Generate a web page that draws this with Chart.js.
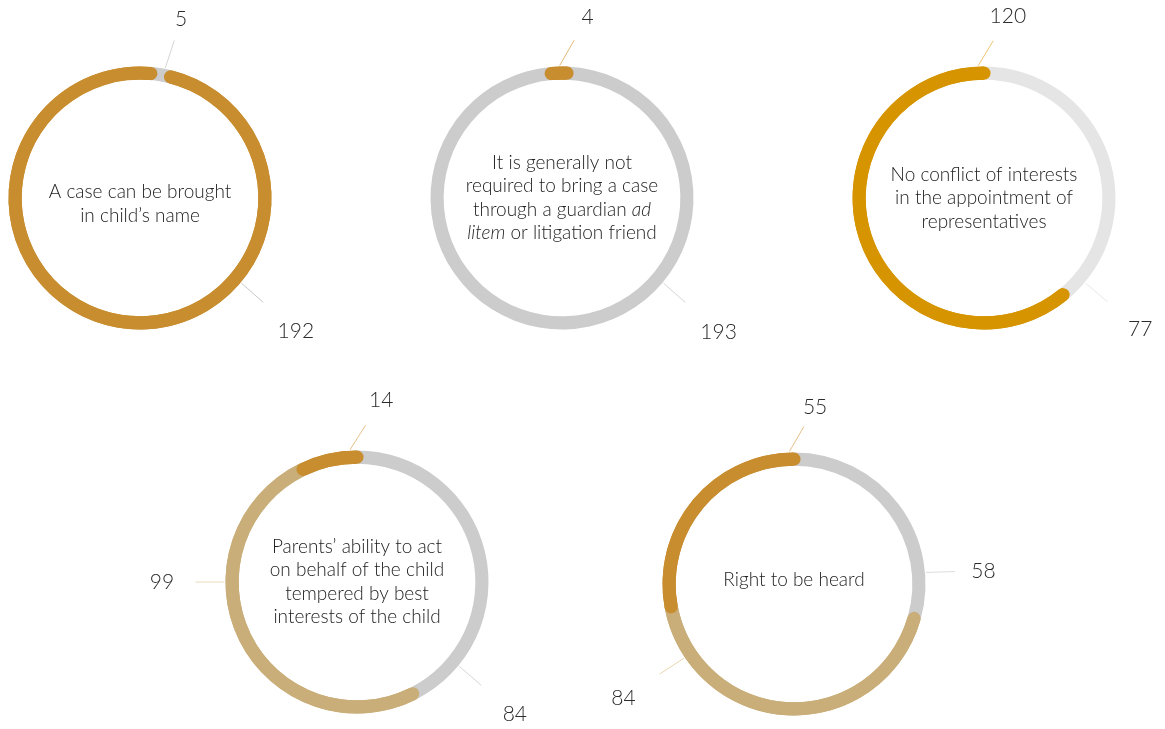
<!DOCTYPE html>
<html>
<head>
<meta charset="utf-8">
<script src="https://cdn.jsdelivr.net/npm/chart.js@4.4.0/dist/chart.umd.min.js"></script>
<style>
  body { margin: 0; width: 1165px; height: 729px; overflow: hidden; background: #fff; position: relative; }
  canvas { position: absolute; }
</style>
</head>
<body>
<script>
// ring values (segment order = clockwise from the top)
const values1 = [5, 192];
const values2 = [4, 193];
const values3 = [77, 120];
const values4 = [84, 99, 14];
const values5 = [58, 84, 55];

// text inside each ring, _x_ = italic
const titles1 = ['A case can be brought', 'in child’s name'];
const titles2 = ['It is generally not', 'required to bring a case', 'through a guardian _ad_', '_litem_ or litigation friend'];
const titles3 = ['No conflict of interests', 'in the appointment of', 'representatives'];
const titles4 = ['Parents’ ability to act', 'on behalf of the child', 'tempered by best', 'interests of the child'];
const titles5 = ['Right to be heard'];

const GOLD = '#c88d2f', GRAY = '#cccccc', TAN = '#c9ae79', AMBER = '#d69500', LIGHT = '#e5e5e5';
const W = 500, H = 440, R = 131.5;

const rad = d => (d - 90) * Math.PI / 180;

const ringExtras = {
    id: 'ringExtras',
    afterDatasetsDraw(chart, args, opts) {
        const ctx = chart.ctx;
        const arcs = chart.getDatasetMeta(0).data;
        const ds = chart.data.datasets[0];

        // round ends on the coloured segments
        opts.capped.forEach(function (i) {
            const p = arcs[i].getProps(['x', 'y', 'startAngle', 'endAngle', 'innerRadius', 'outerRadius']);
            ctx.save();
            ctx.beginPath();
            ctx.arc(p.x, p.y, (p.innerRadius + p.outerRadius) / 2, p.startAngle, p.endAngle);
            ctx.lineWidth = p.outerRadius - p.innerRadius;
            ctx.lineCap = 'round';
            ctx.strokeStyle = ds.backgroundColor[i];
            ctx.stroke();
            ctx.restore();
        });

        // leader lines and values
        opts.callouts.forEach(function (c) {
            const p = arcs[c.i].getProps(['x', 'y', 'outerRadius']);
            const x0 = p.x + Math.cos(rad(c.a)) * (p.outerRadius + 1);
            const y0 = p.y + Math.sin(rad(c.a)) * (p.outerRadius + 1);
            const tx = p.x + Math.cos(rad(c.ta)) * c.d;
            const ty = p.y + Math.sin(rad(c.ta)) * c.d;
            const len = Math.hypot(tx - x0, ty - y0);
            ctx.save();
            ctx.beginPath();
            ctx.moveTo(x0, y0);
            ctx.lineTo(x0 + (tx - x0) / len * 29, y0 + (ty - y0) / len * 29);
            ctx.lineWidth = 1;
            ctx.strokeStyle = c.color;
            ctx.stroke();
            ctx.font = '300 21px Lato';
            ctx.fillStyle = '#2b2b2b';
            ctx.textAlign = 'center';
            ctx.textBaseline = 'middle';
            ctx.fillText(String(ds.data[c.i]), tx, ty);
            ctx.restore();
        });

        // centre text
        const c0 = arcs[0].getProps(['x', 'y']);
        const lh = 23.5;
        const top = c0.y + (opts.dy || 0) - (opts.lines.length - 1) * lh / 2;
        ctx.save();
        ctx.fillStyle = '#222';
        ctx.textBaseline = 'middle';
        ctx.textAlign = 'left';
        opts.lines.forEach(function (line, k) {
            const parts = line.split('_');
            let total = 0;
            parts.forEach(function (t, j) {
                ctx.font = (j % 2 ? 'italic ' : '') + '300 19px Lato';
                total += ctx.measureText(t).width;
            });
            let x = c0.x - total / 2;
            parts.forEach(function (t, j) {
                ctx.font = (j % 2 ? 'italic ' : '') + '300 19px Lato';
                ctx.fillText(t, x, top + k * lh);
                x += ctx.measureText(t).width;
            });
        });
        ctx.restore();
    }
};

function makeRing(cx, cy, values, colors, rotation, extras) {
    const canvas = document.createElement('canvas');
    canvas.width = W;
    canvas.height = H;
    canvas.style.left = (cx - W / 2) + 'px';
    canvas.style.top = (cy - H / 2) + 'px';
    document.body.appendChild(canvas);

    return new Chart(canvas.getContext('2d'), {
        type: 'doughnut',
        data: {
            labels: values.map(String),
            datasets: [{
                data: values,
                backgroundColor: colors,
                borderWidth: 0
            }]
        },
        options: {
            responsive: false,
            animation: false,
            cutout: '90%',
            rotation: rotation,
            events: [],
            layout: {
                padding: { left: W / 2 - R, right: W / 2 - R, top: H / 2 - R, bottom: H / 2 - R }
            },
            plugins: {
                legend: { display: false },
                tooltip: { enabled: false },
                ringExtras: extras
            }
        },
        plugins: [ringExtras]
    });
}

makeRing(140, 198, values1, [GRAY, GOLD], 5, {
    capped: [1],
    lines: titles1,
    dy: 6,
    callouts: [
        { i: 0, a: 11, ta: 13, d: 183, color: '#d4d4d4' },
        { i: 1, a: 130, ta: 130.5, d: 205, color: '#c8c8c8' }
    ]
});

makeRing(562, 198, values2, [GOLD, GRAY], -5, {
    capped: [0],
    lines: titles2,
    callouts: [
        { i: 0, a: -1, ta: 8, d: 183, color: '#e2b877' },
        { i: 1, a: 130, ta: 130.5, d: 206, color: '#d4d4d4' }
    ]
});

makeRing(984, 198, values3, [LIGHT, AMBER], 0, {
    capped: [1],
    lines: titles3,
    callouts: [
        { i: 1, a: -2.5, ta: 7.5, d: 183, color: '#ecc570' },
        { i: 0, a: 130, ta: 130, d: 204, color: '#e8e8e8' }
    ]
});

makeRing(357, 582, values4, [GRAY, TAN, GOLD], 0, {
    capped: [1, 2],
    lines: titles4,
    callouts: [
        { i: 2, a: -3, ta: 7.6, d: 183, color: '#e6c08a' },
        { i: 1, a: 270, ta: 270, d: 195, color: '#ecdcbc' },
        { i: 0, a: 129.5, ta: 130, d: 206, color: '#d6d6d6' }
    ]
});

makeRing(794, 584, values5, [GRAY, TAN, GOLD], 0, {
    capped: [1, 2],
    lines: titles5,
    dy: -4,
    callouts: [
        { i: 2, a: -2, ta: 6.8, d: 178, color: '#e6c08a' },
        { i: 0, a: 85, ta: 86, d: 190, color: '#dcdcdc' },
        { i: 1, a: 236, ta: 236.3, d: 205, color: '#ecd6ae' }
    ]
});
</script>
</body>
</html>
